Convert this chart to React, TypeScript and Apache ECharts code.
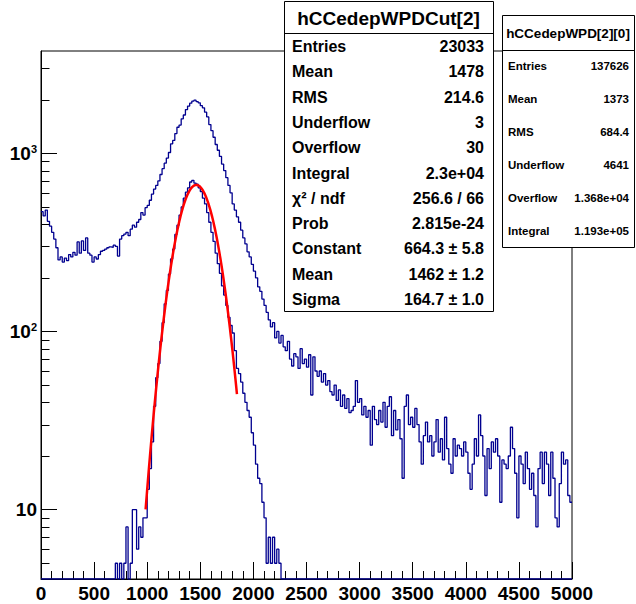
import React, { useEffect, useRef } from 'react';
import * as echarts from 'echarts';

// ---- axis ranges ----
const X_MIN = 0;
const X_MAX = 5000;
const X_MAJOR = 500;
const Y_MIN = 4.08;
const Y_MAX = 3750;
const BIN_WIDTH = 20;

// ---- hCCedepWPD[2][0] : counts per 20-unit bin, starting at 0 ----
const hAllCounts = [
  470, 445, 480, 415, 390, 360, 330, 295, 252, 262,
  245, 258, 250, 270, 262, 278, 268, 318, 275, 322,
  285, 335, 275, 268, 245, 262, 255, 270, 282, 285,
  290, 295, 298, 296, 305, 300, 265, 330, 345, 352,
  360, 345, 375, 395, 385, 410, 425, 465, 450, 495,
  510, 545, 590, 630, 660, 700, 760, 820, 880, 940,
  1010, 1130, 1180, 1290, 1400, 1440, 1560, 1640, 1760, 1840,
  1910, 1960, 1985, 1950, 1920, 1850, 1800, 1700, 1600, 1450,
  1340, 1230, 1120, 1040, 960, 870, 800, 730, 660, 600,
  520, 480, 440, 410, 370, 335, 310, 280, 262, 238,
  218, 200, 178, 168, 152, 140, 128, 116, 106, 112,
  92, 100, 86, 95, 82, 78, 88, 70, 64, 75,
  72, 62, 80, 66, 70, 63, 74, 44, 72, 60,
  56, 60, 52, 58, 50, 53, 46, 44, 50, 41,
  47, 38, 44, 37, 42, 35, 36, 38, 53, 40,
  42, 34, 38, 33, 36, 23, 38, 32, 30, 36,
  31, 40, 29, 38, 43, 26, 36, 28, 32, 25,
  15, 38, 44, 30, 33, 29, 37, 30, 24, 18,
  26, 31, 24, 26, 20, 24, 32, 21, 25, 19,
  33, 22, 18, 16, 25, 20, 23, 22, 20, 24,
  21, 16, 13, 18, 25, 20, 34, 26, 20, 12,
  22, 17, 24, 21, 25, 20, 11, 19, 18, 17,
  20, 29, 22, 16, 9, 20, 18, 14, 21, 17,
  13, 16, 12, 8, 17, 21, 14, 21, 18, 12,
  21, 15, 9, 8, 14, 21, 18, 19, 12, 11,
];

// ---- hCCedepWPDCut[2] : counts per 20-unit bin, non-empty bins start at 700 ----
const CUT_FIRST_EDGE = 700;
const hCutCounts = [
  5, 1, 5, 2, 5, 8, 3, 5, 10, 10,
  6, 8, 7, 9, 9, 13, 17, 24, 38, 55,
  66, 88, 112, 143, 170, 210, 255, 290, 350, 395,
  450, 500, 560, 605, 640, 690, 705, 680, 670, 640,
  610, 560, 520, 465, 410, 360, 320, 275, 240, 212,
  180, 160, 140, 120, 108, 98, 78, 62, 58, 52,
  45, 40, 36, 33, 27, 23, 18, 15, 14, 11,
  9, 5, 7, 5, 7, 5, 6, 5,
];

// ---- gaus fit parameters (from stats box) and fit range ----
const FIT_CONSTANT = 664.3;
const FIT_MEAN = 1462;
const FIT_SIGMA = 164.7;
const FIT_RANGE = [985, 1845];

// ---- y minor tick values ----
const yMinorTicks = [5, 6, 7, 8, 9, 20, 30, 40, 50, 60, 70, 80, 90, 200, 300, 400, 500, 600, 700, 800, 900, 2000, 3000];

// ---- stats boxes ----
const cutTitle = 'hCCedepWPDCut[2]';
const cutLabels = ['Entries', 'Mean', 'RMS', 'Underflow', 'Overflow', 'Integral', 'χ² / ndf', 'Prob', 'Constant', 'Mean', 'Sigma'];
const cutValues = ['23033', '1478', '214.6', '3', '30', '2.3e+04', '256.6 / 66', '2.815e-24', '664.3 ± 5.8', '1462 ± 1.2', '164.7 ± 1.0'];
const allTitle = 'hCCedepWPD[2][0]';
const allLabels = ['Entries', 'Mean', 'RMS', 'Underflow', 'Overflow', 'Integral'];
const allValues = ['137626', '1373', '684.4', '4641', '1.368e+04', '1.193e+05'];

const FONT = '"Liberation Sans", Arial, Helvetica, sans-serif';
const HIST_COLOR = '#00008f';

function toStep(counts: number[], firstEdge: number): number[][] {
  const pts: number[][] = [];
  const nBins = Math.round((X_MAX - X_MIN) / BIN_WIDTH);
  const firstBin = Math.round((firstEdge - X_MIN) / BIN_WIDTH);
  let last = Y_MIN;
  for (let i = 0; i < nBins; i++) {
    const k = i - firstBin;
    const c = k >= 0 && k < counts.length ? counts[k] : 0;
    last = Math.max(c, Y_MIN);
    pts.push([X_MIN + i * BIN_WIDTH, last]);
  }
  pts.push([X_MAX, last]);
  return pts;
}

function fitCurve(): number[][] {
  const pts: number[][] = [];
  for (let x = FIT_RANGE[0]; x <= FIT_RANGE[1]; x += 5) {
    const z = (x - FIT_MEAN) / FIT_SIGMA;
    pts.push([x, FIT_CONSTANT * Math.exp(-0.5 * z * z)]);
  }
  return pts;
}

function statsBox(
  x: number, y: number, w: number, h: number, titleH: number,
  title: string, titleSize: number, labels: string[], values: string[],
  rowSize: number, padL: number, padR: number, rowShift: number
): any[] {
  const els: any[] = [];
  els.push({ type: 'rect', z: 100, shape: { x: x + 0.5, y: y + 0.5, width: w, height: h }, style: { fill: '#fff', stroke: '#000', lineWidth: 1 } });
  els.push({ type: 'line', z: 101, shape: { x1: x + 0.5, y1: y + titleH + 0.5, x2: x + w + 0.5, y2: y + titleH + 0.5 }, style: { stroke: '#000', lineWidth: 1 } });
  els.push({ type: 'text', z: 101, x: x + w / 2, y: y + titleH / 2 + 1, style: { text: title, fontSize: titleSize, fontWeight: 'bold', fontFamily: FONT, fill: '#000', align: 'center', verticalAlign: 'middle' } });
  const rowH = (h - titleH) / labels.length;
  labels.forEach((lab, i) => {
    const cy = y + titleH + rowH * (i + 0.5) + rowShift;
    els.push({ type: 'text', z: 101, x: x + padL, y: cy, style: { text: lab, fontSize: rowSize, fontWeight: 'bold', fontFamily: FONT, fill: '#000', align: 'left', verticalAlign: 'middle' } });
    els.push({ type: 'text', z: 101, x: x + w - padR, y: cy, style: { text: values[i], fontSize: rowSize, fontWeight: 'bold', fontFamily: FONT, fill: '#000', align: 'right', verticalAlign: 'middle' } });
  });
  return els;
}

export default function App() {
  const ref = useRef<HTMLDivElement>(null);
  useEffect(() => {
    document.body.style.margin = '0';
    if (!ref.current) return;
    const chart = echarts.init(ref.current, undefined, { renderer: 'svg' });
    const option: any = {
      animation: false,
      backgroundColor: '#fff',
      grid: { left: 41, top: 51, right: 64, bottom: 25, show: true, borderColor: '#000', borderWidth: 1, backgroundColor: 'transparent', outerBoundsMode: 'none' },
      xAxis: {
        type: 'value', min: X_MIN, max: X_MAX, interval: X_MAJOR,
        axisLine: { show: true, lineStyle: { color: '#000', width: 1 } },
        axisTick: { show: true, inside: true, length: 17, lineStyle: { color: '#000' } },
        minorTick: { show: true, splitNumber: 5, length: 8, lineStyle: { color: '#000' } },
        splitLine: { show: false },
        axisLabel: { fontSize: 19, fontWeight: 'bold', fontFamily: FONT, color: '#000', margin: 5, formatter: (v: number) => String(v) },
      },
      yAxis: {
        type: 'log', logBase: 10, min: Y_MIN, max: Y_MAX,
        axisLine: { show: true, lineStyle: { color: '#000', width: 1 } },
        axisTick: { show: true, inside: true, length: 16, lineStyle: { color: '#000' } },
        minorTick: { show: false },
        splitLine: { show: false },
        axisLabel: {
          fontSize: 19, fontWeight: 'bold', fontFamily: FONT, color: '#000', margin: 4, lineHeight: 19,
          showMinLabel: false, showMaxLabel: false,
          formatter: (v: number) => {
            const l = Math.log10(v);
            const e = Math.round(l);
            if (Math.abs(l - e) > 1e-6) return '';
            if (e === 1) return '10';
            return '10{sup|' + e + '}';
          },
          rich: { sup: { fontSize: 11, fontWeight: 'bold', fontFamily: FONT, color: '#000', verticalAlign: 'top', lineHeight: 9 } },
        },
      },
      series: [
        {
          type: 'line', name: 'hCCedepWPD[2][0]', data: toStep(hAllCounts, X_MIN), step: 'end',
          symbol: 'none', lineStyle: { color: HIST_COLOR, width: 1.3 }, clip: true, z: 3,
        },
        {
          type: 'line', name: 'hCCedepWPDCut[2]', data: toStep(hCutCounts, CUT_FIRST_EDGE), step: 'end',
          symbol: 'none', lineStyle: { color: HIST_COLOR, width: 1.3 }, clip: true, z: 4,
        },
        {
          type: 'line', name: 'gaus', data: fitCurve(), symbol: 'none',
          lineStyle: { color: '#ff0000', width: 2.5 }, clip: true, z: 5,
        },
        {
          type: 'custom', name: 'yminor', silent: true, clip: false, z: 6,
          data: yMinorTicks.map((v) => [X_MIN, v]),
          renderItem: (params: any, api: any) => {
            const p = api.coord([api.value(0), api.value(1)]);
            const x0 = Math.round(p[0]) + 0.5;
            const y0 = Math.round(p[1]) + 0.5;
            return { type: 'line', shape: { x1: x0, y1: y0, x2: x0 + 8, y2: y0 }, style: { stroke: '#000', lineWidth: 1 } };
          },
        },
      ],
      graphic: [
        ...statsBox(284, 1, 209, 310, 32, cutTitle, 19, cutLabels, cutValues, 16, 8, 9, 1),
        ...statsBox(502, 15, 132, 232, 35, allTitle, 13.5, allLabels, allValues, 11.5, 6, 5, 0),
      ],
    };
    chart.setOption(option);
    return () => chart.dispose();
  }, []);
  return <div ref={ref} style={{ width: 636, height: 604 }} />;
}
